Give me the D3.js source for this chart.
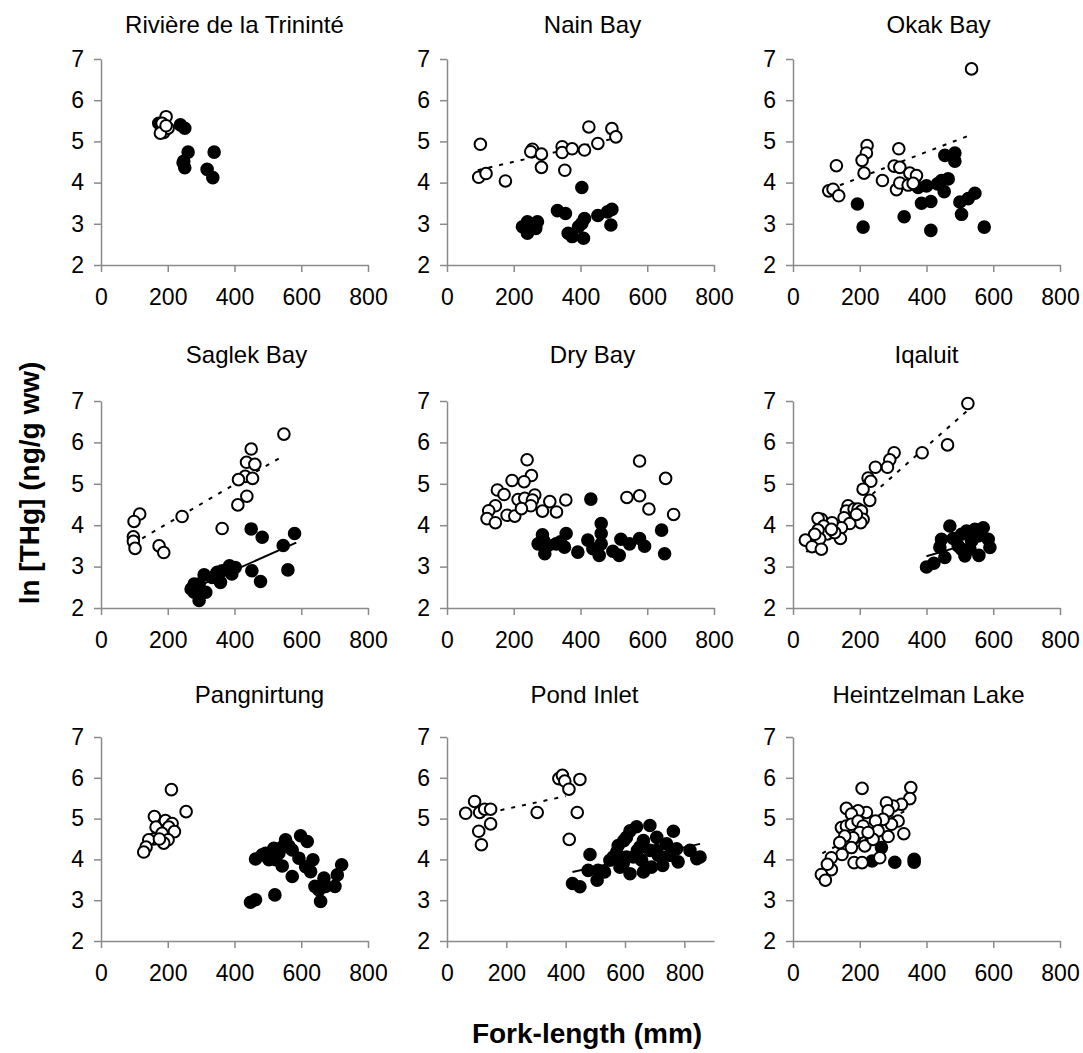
<!DOCTYPE html>
<html>
<head>
<meta charset="utf-8">
<script src="https://cdn.jsdelivr.net/npm/d3@7"></script>
<style>
body { margin: 0; background: #fff; }
text { font-family: Arial, "Liberation Sans", sans-serif; }
</style>
</head>
<body>
<div id="chart"></div>
<script>
// site names, in panel order
var sites = ["Rivière de la Trininté", "Nain Bay", "Okak Bay",
             "Saglek Bay", "Dry Bay", "Iqaluit",
             "Pangnirtung", "Pond Inlet", "Heintzelman Lake"];

var yTicks = [2, 3, 4, 5, 6, 7];
var xTicks = [0, 200, 400, 600, 800];
var xMax = [800, 800, 800, 800, 800, 800, 800, 900, 800];

// points are [fork length (mm), ln THg]
var trinOpen = [[195,5.6],[183,5.44],[188,5.22],[201,5.32],[178,5.2],[195,5.38]];
var trinFilled = [[173,5.44],[238,5.4],[251,5.32],[261,4.74],[248,4.52],[251,4.36],[318,4.32],[335,4.12],[339,4.74],[246,4.48]];

var nainOpen = [[100,4.93],[95,4.13],[117,4.22],[175,4.04],[256,4.81],[251,4.75],[283,4.69],[283,4.37],[345,4.87],[345,4.73],[353,4.3],[375,4.82],[412,4.79],[425,5.35],[452,4.95],[494,5.31],[506,5.11]];
var nainFilled = [[226,2.93],[241,3.05],[241,2.77],[256,2.93],[271,3.05],[266,2.89],[331,3.32],[355,3.25],[363,2.77],[375,2.69],[404,3.88],[404,3.01],[412,3.13],[409,2.65],[394,2.93],[452,3.2],[481,3.29],[494,3.35],[491,2.97]];

var okakOpen = [[535,6.76],[222,4.9],[220,4.72],[207,4.54],[213,4.23],[130,4.41],[107,3.8],[120,3.84],[137,3.68],[268,4.05],[317,4.82],[303,4.4],[320,4.37],[310,3.83],[320,3.99],[350,4.23],[370,4.17],[345,3.94],[360,3.98]];
var okakFilled = [[193,3.48],[210,2.92],[333,3.17],[413,2.84],[573,2.92],[375,3.88],[400,3.92],[385,3.5],[413,3.54],[445,4.05],[453,3.78],[465,4.09],[455,4.66],[485,4.72],[485,4.52],[500,3.53],[505,3.23],[525,3.61],[545,3.74],[433,3.97]];

var saglekOpen = [[548,6.2],[450,5.84],[436,5.52],[461,5.47],[432,5.18],[454,5.13],[412,5.1],[437,4.7],[410,4.49],[363,3.92],[243,4.21],[116,4.27],[99,4.09],[97,3.72],[97,3.61],[102,3.44],[174,3.5],[188,3.34]];
var saglekFilled = [[450,3.91],[483,3.71],[580,3.8],[546,3.51],[560,2.92],[452,2.9],[478,2.64],[279,2.38],[279,2.58],[294,2.18],[309,2.8],[314,2.38],[333,2.74],[348,2.86],[358,2.62],[363,2.9],[385,3.02],[402,2.98],[392,2.82],[294,2.58],[270,2.46]];

var dryOpen = [[240,5.58],[253,5.2],[231,5.05],[195,5.08],[151,4.85],[171,4.74],[263,4.73],[213,4.62],[233,4.65],[256,4.61],[251,4.47],[145,4.47],[125,4.35],[120,4.16],[145,4.06],[180,4.24],[203,4.22],[223,4.4],[286,4.34],[308,4.57],[328,4.32],[356,4.61],[577,5.55],[655,5.13],[539,4.67],[577,4.71],[605,4.39],[679,4.26]];
var dryFilled = [[431,4.63],[462,4.04],[462,3.8],[286,3.77],[273,3.55],[293,3.31],[303,3.51],[357,3.8],[352,3.47],[327,3.55],[392,3.35],[422,3.64],[437,3.43],[456,3.27],[462,3.55],[497,3.37],[516,3.27],[521,3.66],[547,3.55],[577,3.68],[592,3.49],[643,3.88],[652,3.31],[290,3.62],[340,3.6]];

var iqaluitOpen = [[524,6.94],[463,5.94],[387,5.75],[303,5.75],[290,5.58],[283,5.4],[247,5.4],[225,5.14],[233,5.06],[210,4.87],[230,4.6],[165,4.47],[160,4.34],[183,4.39],[195,4.39],[205,4.34],[210,4.14],[203,4.06],[153,4.18],[170,4.04],[145,3.94],[117,4.06],[85,4.14],[75,4.16],[92,3.98],[103,3.79],[75,3.88],[80,3.67],[65,3.78],[37,3.64],[57,3.48],[85,3.42],[142,3.68],[125,3.82],[115,3.9],[190,4.26]];
var iqaluitFilled = [[400,2.99],[422,3.08],[440,3.47],[455,3.22],[470,3.98],[480,3.68],[495,3.5],[505,3.78],[520,3.86],[515,3.26],[530,3.42],[545,3.9],[570,3.94],[585,3.66],[590,3.46],[557,3.27],[535,3.62],[505,3.42],[445,3.66],[555,3.74]];

var pangOpen = [[211,5.71],[255,5.17],[160,5.05],[165,4.79],[193,4.95],[213,4.88],[203,4.79],[220,4.68],[183,4.64],[158,4.5],[143,4.48],[201,4.48],[188,4.4],[135,4.3],[128,4.18],[175,4.5]];
var pangFilled = [[448,2.95],[463,3.01],[521,3.13],[463,4.01],[483,4.11],[503,3.99],[518,4.27],[533,4.15],[543,3.84],[553,4.48],[563,4.33],[573,3.58],[598,4.58],[618,4.44],[593,4.03],[573,4.23],[613,3.82],[635,3.99],[628,3.7],[641,3.34],[658,2.97],[668,3.54],[673,3.34],[701,3.34],[708,3.62],[721,3.87],[653,3.25],[523,3.99],[493,4.15],[543,4.3]];

var pondOpen = [[63,5.13],[93,5.42],[110,5.15],[127,5.23],[147,5.23],[147,4.87],[107,4.69],[116,4.36],[304,5.15],[377,5.98],[389,6.06],[397,5.92],[411,5.72],[448,5.96],[439,5.15],[412,4.49]];
var pondFilled = [[423,3.41],[448,3.33],[482,4.12],[476,3.73],[506,3.49],[509,3.73],[531,3.69],[560,4.06],[577,4.34],[583,3.81],[596,4.46],[605,4.06],[617,4.7],[639,4.8],[642,4.22],[662,3.69],[656,3.98],[662,4.46],[684,4.83],[684,4.22],[707,4.54],[712,4.1],[727,3.85],[740,4.38],[763,4.69],[774,4.26],[779,3.94],[819,4.22],[842,4.02],[853,4.06],[594,3.9],[572,4.18],[628,4.06],[617,3.65],[689,3.81],[650,4.3],[549,3.98],[707,4.22],[751,4.1],[605,4.54]];

var heintzOpen = [[207,5.74],[353,5.76],[350,5.49],[325,5.35],[300,5.31],[280,5.39],[285,5.19],[315,4.94],[332,4.63],[285,4.56],[295,4.86],[270,4.98],[247,4.94],[255,4.7],[220,5.15],[195,5.19],[160,5.25],[175,5.11],[145,4.78],[160,4.82],[175,4.86],[195,4.94],[210,4.82],[200,4.66],[180,4.53],[155,4.57],[140,4.41],[147,4.12],[175,4.29],[215,4.33],[183,3.92],[207,3.92],[115,4.04],[115,3.75],[103,3.88],[85,3.63],[97,3.49],[240,4.49],[260,4.04],[225,4.66]];
var heintzFilled = [[363,3.93],[363,4.0],[305,3.93],[237,3.96],[265,4.29],[185,4.53],[235,4.49]];

var openSets = [trinOpen, nainOpen, okakOpen, saglekOpen, dryOpen, iqaluitOpen, pangOpen, pondOpen, heintzOpen];
var filledSets = [trinFilled, nainFilled, okakFilled, saglekFilled, dryFilled, iqaluitFilled, pangFilled, pondFilled, heintzFilled];

// fitted lines [x1, y1, x2, y2]; dotted = open fish, solid = filled fish
var dottedFits = [null, [92,4.3,500,5.07], [110,3.84,530,5.15], [95,3.55,535,5.62], null, [40,3.35,530,6.82], null, [144,5.15,400,5.55], [88,4.15,350,5.25]];
var solidFits = [null, null, null, [270,2.45,585,3.58], null, [400,3.25,590,3.7], null, [423,3.69,853,4.38], null];

var width = 1083, height = 1053;
var colLeft = [101, 447, 793];
var rowTop = [59, 401, 737];
var rowBottom = [265, 608, 941];
var titleBase = [33, 363, 703];
var titleShift = [0, 12, 12, 12, 12, 0, 25, 4, 2];
var pw = 267;

var svg = d3.select("#chart").append("svg")
    .attr("width", width)
    .attr("height", height);

sites.forEach(function(name, i) {
    var row = Math.floor(i / 3);
    var left = colLeft[i % 3];
    var ph = rowBottom[row] - rowTop[row];

    var x = d3.scaleLinear().domain([0, xMax[i]]).range([0, pw]);
    var y = d3.scaleLinear().domain([2, 7]).range([ph, 0]);

    var g = svg.append("g")
        .attr("transform", "translate(" + left + "," + rowTop[row] + ")");

    g.append("text")
        .attr("x", pw / 2 + titleShift[i])
        .attr("y", titleBase[row] - rowTop[row])
        .attr("text-anchor", "middle")
        .attr("font-size", 24)
        .text(name);

    var ya = g.append("g")
        .call(d3.axisLeft(y).tickValues(yTicks).tickFormat(d3.format("d"))
            .tickSize(7).tickSizeOuter(0).tickPadding(10));
    var xa = g.append("g")
        .attr("transform", "translate(0," + ph + ")")
        .call(d3.axisBottom(x).tickValues(xTicks).tickFormat(d3.format("d"))
            .tickSize(7).tickSizeOuter(0).tickPadding(17));

    [ya, xa].forEach(function(a) {
        a.select(".domain").attr("stroke", "#8a8a8a").attr("stroke-width", 1.5);
        a.selectAll(".tick line").attr("stroke", "#8a8a8a").attr("stroke-width", 1.5);
        a.selectAll(".tick text")
            .attr("font-size", 23)
            .attr("fill", "#000")
            .style("font-family", "Arial, 'Liberation Sans', sans-serif");
    });

    var fits = [[dottedFits[i], "4,7"], [solidFits[i], null]];
    fits.forEach(function(f) {
        if (!f[0]) return;
        var l = f[0];
        g.append("line")
            .attr("x1", x(l[0])).attr("y1", y(l[1]))
            .attr("x2", x(l[2])).attr("y2", y(l[3]))
            .attr("stroke", "#000")
            .attr("stroke-width", 2)
            .attr("stroke-dasharray", f[1]);
    });

    g.selectAll(".filled")
        .data(filledSets[i])
        .enter()
        .append("circle")
        .attr("class", "filled")
        .attr("cx", function(d) { return x(d[0]); })
        .attr("cy", function(d) { return y(d[1]); })
        .attr("r", 5.8)
        .attr("fill", "#000")
        .attr("stroke", "#000")
        .attr("stroke-width", 2);

    g.selectAll(".open")
        .data(openSets[i])
        .enter()
        .append("circle")
        .attr("class", "open")
        .attr("cx", function(d) { return x(d[0]); })
        .attr("cy", function(d) { return y(d[1]); })
        .attr("r", 5.8)
        .attr("fill", "#fff")
        .attr("stroke", "#000")
        .attr("stroke-width", 2);
});

svg.append("text")
    .attr("transform", "translate(39,483) rotate(-90)")
    .attr("text-anchor", "middle")
    .attr("font-size", 28)
    .attr("font-weight", "bold")
    .text("ln [THg] (ng/g ww)");

svg.append("text")
    .attr("x", 587)
    .attr("y", 1043)
    .attr("text-anchor", "middle")
    .attr("font-size", 28)
    .attr("font-weight", "bold")
    .text("Fork-length (mm)");
</script>
</body>
</html>
